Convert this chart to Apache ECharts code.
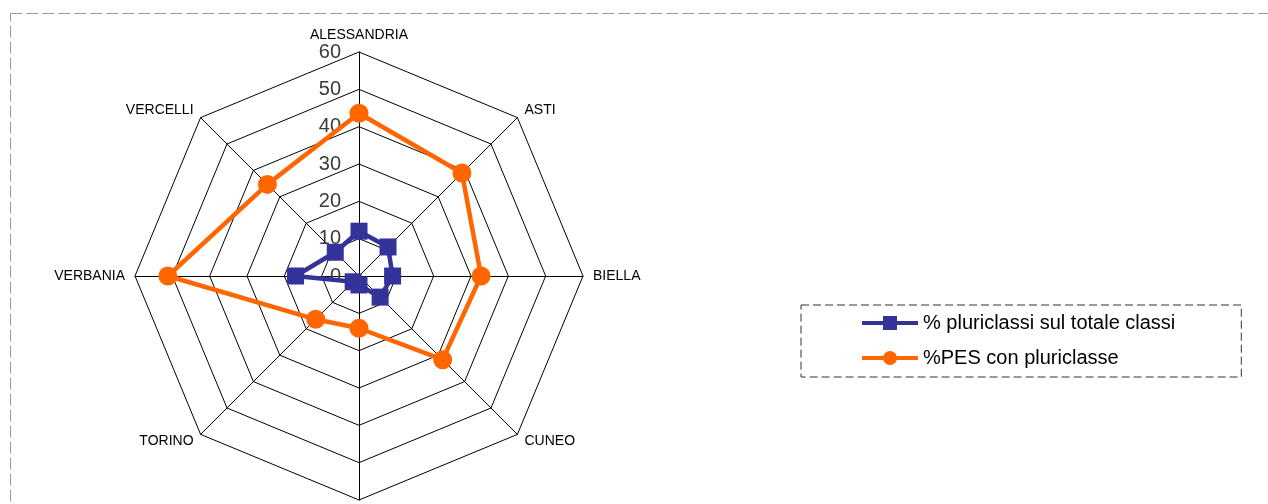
<!DOCTYPE html>
<html><head><meta charset="utf-8">
<script src="https://cdn.jsdelivr.net/npm/echarts@6/dist/echarts.min.js"></script>
<style>html,body{margin:0;padding:0;background:#fff}#c{width:1268px;height:504px}</style>
</head><body><div id="c"></div>
<script>
// Clockwise order starting at top
const categories = ['ALESSANDRIA','ASTI','BIELLA','CUNEO','NOVARA','TORINO','VERBANIA','VERCELLI'];
const pluriclassi = [12, 11, 9, 8, 2.4, 2.2, 17, 9];
const pesPluriclasse = [43.6, 39, 32.7, 31.7, 14, 16.4, 51.2, 34.7];
const seriesNames = ['% pluriclassi sul totale classi', '%PES con pluriclasse'];
const axisMax = 60;

// ECharts lays radar indicators counter-clockwise; reorder so the picture runs clockwise
const order = [0,7,6,5,4,3,2,1];
const pick = arr => order.map(i => arr[i]);
const FONT = 'Liberation Sans, Arial, sans-serif';

const indicator = pick(categories).map((name, k) => {
  const o = { name: name, max: axisMax, min: 0 };
  if (k === 0) o.axisLabel = { show: true, fontSize: 20, color: '#3a3a3a', fontFamily: FONT, margin: 18 };
  return o;
});

const lineSquareIcon = 'path://M0 5 L56 5 L56 9 L0 9 Z M21 0 L35 0 L35 14 L21 14 Z';
const lineCircleIcon = 'path://M0 5 L56 5 L56 9 L0 9 Z M21 7 A7 7 0 1 1 35 7 A7 7 0 1 1 21 7 Z';

const chart = echarts.init(document.getElementById('c'), null, { renderer: 'canvas' });
chart.setOption({
  animation: false,
  backgroundColor: '#fff',
  graphic: [{
    type: 'rect', shape: { x: 10.5, y: 13.5, width: 1300, height: 520 }, silent: true,
    style: { fill: 'none', stroke: '#9a9a9a', lineWidth: 1, lineDash: [12, 4] }
  }],
  legend: {
    left: 801, top: 305,
    orient: 'vertical',
    padding: [8, 66, 9, 61],
    borderColor: '#333', borderWidth: 1, borderType: [8, 4],
    itemWidth: 56, itemHeight: 14, itemGap: 15,
    textStyle: { fontSize: 20, color: '#000', fontFamily: FONT },
    data: [
      { name: seriesNames[0], icon: lineSquareIcon },
      { name: seriesNames[1], icon: lineCircleIcon }
    ]
  },
  radar: {
    center: [359, 276],
    radius: 224,
    startAngle: 90,
    splitNumber: 6,
    shape: 'polygon',
    nameGap: 10,
    axisName: { color: '#000', fontSize: 14, fontFamily: FONT },
    axisLine: { lineStyle: { color: '#000', width: 1 } },
    splitLine: { lineStyle: { color: '#000', width: 1 } },
    splitArea: { show: false },
    axisTick: { show: false },
    axisLabel: { show: false },
    indicator: indicator
  },
  series: [{
    type: 'radar',
    data: [
      {
        name: seriesNames[0], value: pick(pluriclassi),
        symbol: 'rect', symbolSize: 17,
        lineStyle: { color: '#333399', width: 4.5 },
        itemStyle: { color: '#333399' }
      },
      {
        name: seriesNames[1], value: pick(pesPluriclasse),
        symbol: 'circle', symbolSize: 19,
        lineStyle: { color: '#FF6600', width: 4.5 },
        itemStyle: { color: '#FF6600' }
      }
    ]
  }]
});
</script></body></html>
